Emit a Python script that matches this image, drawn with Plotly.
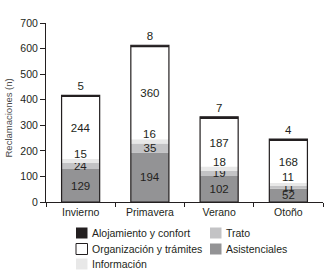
import numpy as np
import plotly.graph_objects as go

categories = ["Invierno", "Primavera", "Verano", "Otoño"]
asistenciales = [129, 194, 102, 52]
trato = [24, 35, 19, 11]
informacion = [15, 16, 18, 11]
organizacion = [244, 360, 187, 168]
alojamiento = [5, 8, 7, 4]
y_ticks = [0, 100, 200, 300, 400, 500, 600, 700]

FONT = "Liberation Sans"
INK = "#231f20"
C_ASIS = "#939395"
C_TRATO = "#c3c3c5"
C_INFO = "#e8e8e8"
C_ORG = "#ffffff"
C_ALOJ = "#231f20"

# (name, values, colour) in stacking order, bottom to top
series = [
    ("Asistenciales", asistenciales, C_ASIS),
    ("Trato", trato, C_TRATO),
    ("Información", informacion, C_INFO),
    ("Organización y trámites", organizacion, C_ORG),
    ("Alojamiento y confort", alojamiento, C_ALOJ),
]
# legend layout order (row-wise, two columns)
legend_order = ["Alojamiento y confort", "Trato", "Organización y trámites",
                "Asistenciales", "Información"]

vals = np.array([s[1] for s in series], dtype=float)
bases = np.vstack([np.zeros(vals.shape[1]), np.cumsum(vals, axis=0)[:-1]])
totals = vals.sum(axis=0)

BW = 0.55
LBL = 11.5
fig = go.Figure()
annotations = []
for i, (name, v, col) in enumerate(series):
    base = bases[i]
    if name == "Alojamiento y confort":
        tp = "outside"
    elif name == "Información":
        tp = "none"
    else:
        tp = "inside"
    fig.add_trace(go.Bar(
        x=categories, y=v, base=base, name=name, width=BW,
        marker=dict(color=col, line=dict(width=0)),
        text=[str(a) for a in v], textposition=tp, textangle=0,
        constraintext="none", insidetextanchor="middle",
        textfont=dict(family=FONT, size=LBL, color=INK),
        outsidetextfont=dict(family=FONT, size=LBL, color=INK),
        cliponaxis=False, showlegend=False, hoverinfo="skip",
    ))
    if name == "Información":
        for c, b, a in zip(categories, base, v):
            annotations.append(dict(
                x=c, y=b + a / 2, xref="x", yref="y", text=str(a),
                showarrow=False, yshift=7,
                font=dict(family=FONT, size=LBL, color=INK),
            ))

# outline around each full stacked bar
fig.add_trace(go.Bar(
    x=categories, y=totals, base=np.zeros(len(categories)), width=BW,
    marker=dict(color="rgba(0,0,0,0)", line=dict(color=INK, width=1.2)),
    showlegend=False, hoverinfo="skip",
))

# legend (two columns, row-wise) in paper coordinates
PLOT_W, PLOT_H = 277, 179
col_x = [30 / PLOT_W, 164 / PLOT_W]      # swatch left edge
row_y = [-31 / PLOT_H, -47 / PLOT_H, -62 / PLOT_H]  # row centre
sw = 11.5 / PLOT_W
sh = 5.5 / PLOT_H
colour_of = {s[0]: s[2] for s in series}
shapes = []
for k, name in enumerate(legend_order):
    r, c = divmod(k, 2)
    x0 = col_x[c]
    yc = row_y[r]
    col = colour_of[name]
    shapes.append(dict(
        type="rect", xref="paper", yref="paper",
        x0=x0, x1=x0 + sw, y0=yc - sh, y1=yc + sh,
        fillcolor=col,
        line=dict(color=INK if col == C_ORG else col, width=1 if col == C_ORG else 0),
    ))
    annotations.append(dict(
        xref="paper", yref="paper", x=x0 + sw + 2.5 / PLOT_W, y=yc,
        xanchor="left", yanchor="middle", text=name, showarrow=False,
        font=dict(family=FONT, size=10.5, color=INK),
    ))

# y-axis title placed in the left margin
annotations.append(dict(
    xref="paper", yref="paper", x=-38 / PLOT_W, y=(202 - 118.5) / PLOT_H,
    xanchor="center", yanchor="middle", textangle=-90,
    text="Reclamaciones (n)", showarrow=False,
    font=dict(family=FONT, size=9.5, color="#4a4a4a"),
))

fig.update_layout(
    width=331, height=279,
    margin=dict(l=46, r=8, t=23, b=77),
    barmode="overlay",
    plot_bgcolor="white", paper_bgcolor="white",
    font=dict(family=FONT, size=10.5, color=INK),
    showlegend=False,
    annotations=annotations,
    shapes=shapes,
)
fig.update_xaxes(
    type="category", tickson="boundaries", ticks="outside", ticklen=4,
    tickcolor=INK, showline=True, linecolor=INK, linewidth=1,
    showgrid=False, tickfont=dict(family=FONT, size=10.5, color=INK),
    range=[-0.5, 3.5],
)
fig.update_yaxes(
    range=[0, 700], tickvals=y_ticks, ticktext=[str(t) for t in y_ticks],
    ticks="outside", ticklen=5, tickcolor=INK, showline=True, linecolor=INK,
    linewidth=1, showgrid=False, zeroline=False,
    tickfont=dict(family=FONT, size=10.5, color=INK),
)

fig.write_html("out.html", config={"displayModeBar": False},
               post_script="document.body.style.margin='0';")
